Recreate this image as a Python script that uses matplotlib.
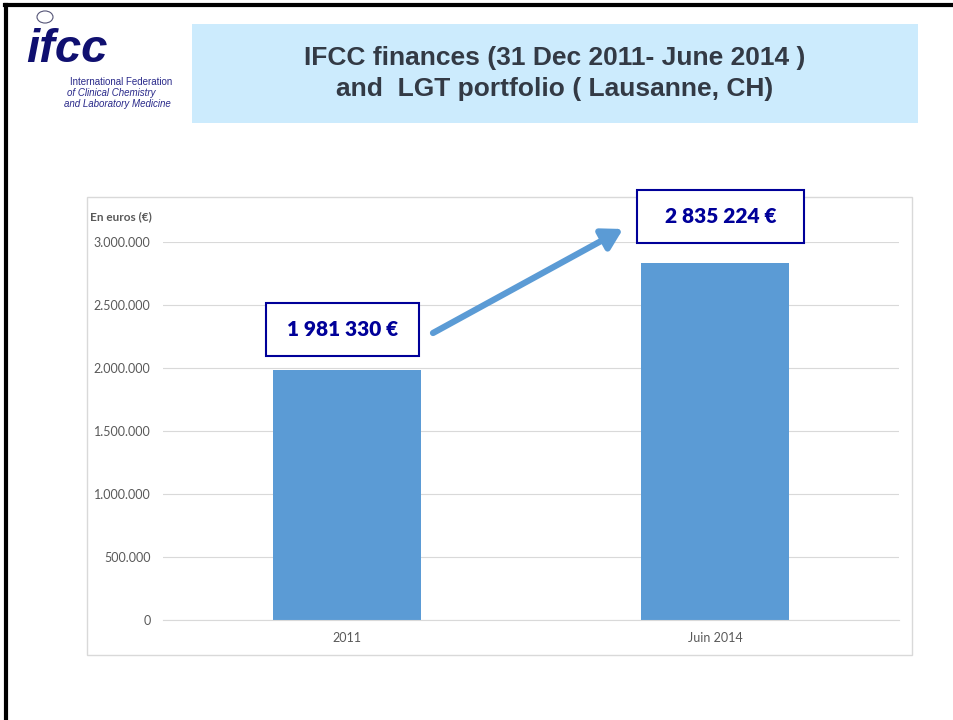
import matplotlib.pyplot as plt
from matplotlib.patches import Rectangle, FancyArrowPatch, Circle
from matplotlib.ticker import FuncFormatter

# data
categories = ['2011', 'Juin 2014']
values = [1981330, 2835224]
value_labels = ['1 981 330 €', '2 835 224 €']
yticks = [0, 500000, 1000000, 1500000, 2000000, 2500000, 3000000]

W, H = 954, 720
calib = ['Lato', 'DejaVu Sans']
bar_color = '#5B9BD5'
navy = '#000099'


def fx(px):
    return px / W


def fy(py):
    return 1 - py / H


fig = plt.figure(figsize=(W / 100, H / 100), dpi=100)

# slide border (top and left)
fig.add_artist(plt.Line2D([fx(5), 1], [fy(5), fy(5)], color='black', lw=3))
fig.add_artist(plt.Line2D([fx(6), fx(6)], [fy(5), 0], color='black', lw=3))

# title box
fig.add_artist(Rectangle((fx(192), fy(123)), fx(918) - fx(192), fy(24) - fy(123),
                         facecolor='#CCEBFD', edgecolor='none', zorder=-1))
fig.text(fx(555), fy(58), 'IFCC finances (31 Dec 2011- June 2014 )', ha='center', va='center',
         fontsize=19, fontweight='bold', color='#333A45', family='Liberation Sans')
fig.text(fx(555), fy(89), 'and  LGT portfolio ( Lausanne, CH)', ha='center', va='center',
         fontsize=19, fontweight='bold', color='#333A45', family='Liberation Sans')

# logo, rough version
logo_blue = '#101070'
fig.add_artist(Circle((fx(45), fy(17)), 8 / W, transform=fig.transFigure,
                      facecolor='none', edgecolor='#555577', lw=0.8))
fig.text(fx(26), fy(50), 'ifcc', ha='left', va='center', fontsize=34, fontweight='bold',
         style='italic', color=logo_blue, family='Liberation Sans')
fig.text(fx(70), fy(82), 'International Federation', fontsize=7, color='#2a2a8a',
         va='center', family='Liberation Sans')
fig.text(fx(67), fy(93), 'of Clinical Chemistry', fontsize=7, style='italic', color='#2a2a8a',
         va='center', family='Liberation Sans')
fig.text(fx(64), fy(104), 'and Laboratory Medicine', fontsize=7, style='italic', color='#2a2a8a',
         va='center', family='Liberation Sans')

# chart area frame
fig.add_artist(Rectangle((fx(87), fy(655)), fx(912) - fx(87), fy(197) - fy(655),
                         facecolor='white', edgecolor='#D9D9D9', lw=1, zorder=-1))

ax = fig.add_axes([fx(163), fy(620), fx(899) - fx(163), fy(242) - fy(620)])
x = list(range(len(categories)))
ax.bar(x, values, width=0.4, color=bar_color, zorder=2)
ax.set_xlim(-0.5, 1.5)
ax.set_ylim(0, 3000000)
ax.set_yticks(yticks)
ax.yaxis.set_major_formatter(FuncFormatter(lambda v, p: f'{int(v):,}'.replace(',', '.')))
ax.set_xticks(x)
ax.set_xticklabels(categories)
ax.grid(axis='y', color='#D9D9D9', lw=0.8, zorder=0)
for s in ['top', 'right', 'left']:
    ax.spines[s].set_visible(False)
ax.spines['bottom'].set_color('#D9D9D9')
ax.tick_params(length=0, colors='#595959', labelsize=9)
ax.tick_params(axis='y', pad=9)
ax.tick_params(axis='x', pad=9)
for lab in ax.get_xticklabels() + ax.get_yticklabels():
    lab.set_family(calib)
ax.set_facecolor('none')

fig.text(fx(90), fy(217), 'En euros (€)', fontsize=8.5, fontweight='bold', color='#595959',
         va='center', family=calib)

# value boxes
box_pos = [(266, 303, 419, 356), (637, 190, 804, 243)]
for (x0, y0, x1, y1), lab in zip(box_pos, value_labels):
    fig.add_artist(Rectangle((fx(x0), fy(y1)), fx(x1) - fx(x0), fy(y0) - fy(y1),
                             facecolor='white', edgecolor=navy, lw=1.5, zorder=5))
    fig.text(fx((x0 + x1) / 2), fy((y0 + y1) / 2), lab, ha='center', va='center',
             fontsize=15, fontweight='heavy', color=navy, family=calib, zorder=6)

# arrow between the boxes
arr = FancyArrowPatch((fx(433), fy(333)), (fx(623), fy(229)), transform=fig.transFigure,
                      arrowstyle='-|>,head_length=12,head_width=7', mutation_scale=1,
                      color=bar_color, lw=4.5, shrinkA=0, shrinkB=0)
fig.add_artist(arr)

fig.savefig('out.png', dpi=100)
